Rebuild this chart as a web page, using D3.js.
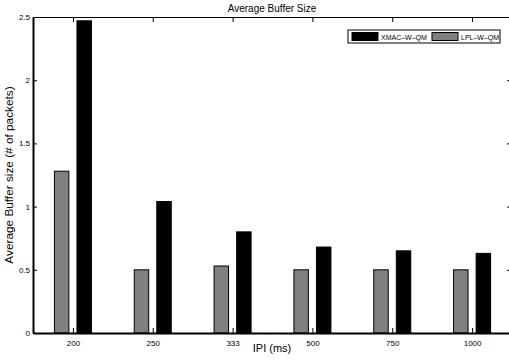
<!DOCTYPE html>
<html>
<head>
<meta charset="utf-8">
<script src="https://cdn.jsdelivr.net/npm/d3@7"></script>
<style>
  body { margin: 0; background: #fff; }
  svg { display: block; font-family: "Liberation Sans", Arial, sans-serif; }
</style>
</head>
<body>
<div id="chart"></div>
<script>
// categories and values
const ipi = ['200', '250', '333', '500', '750', '1000'];
const lplValues = [1.28, 0.50, 0.53, 0.50, 0.50, 0.50];
const xmacValues = [2.47, 1.04, 0.80, 0.68, 0.65, 0.63];
const yTicks = [0, 0.5, 1, 1.5, 2, 2.5];
const seriesNames = ['XMAC\u2013W\u2013QM', 'LPL\u2013W\u2013QM'];

const width = 509;
const height = 362;
const plotLeft = 33, plotRight = 512, plotTop = 17, plotBottom = 333;

const svg = d3.select('#chart')
  .append('svg')
  .attr('width', width)
  .attr('height', height);

// x scale over category index, y scale over buffer size
const x = d3.scaleLinear().domain([0.5, ipi.length + 0.5]).range([plotLeft, plotRight]);
const y = d3.scaleLinear().domain([0, 2.5]).range([plotBottom, plotTop]);

const barW = 14.5 / 80;   // bar width in category units
const offset = 11.3 / 80; // center offset from tick

// bars: grey first (left), black second (right)
const g = svg.append('g');
g.selectAll('rect.lpl')
  .data(lplValues)
  .enter().append('rect')
  .attr('class', 'lpl')
  .attr('x', (d, i) => x(i + 1 - offset - barW / 2))
  .attr('width', x(barW) - x(0))
  .attr('y', d => y(d))
  .attr('height', d => y(0) - y(d))
  .attr('fill', '#808080')
  .attr('stroke', '#000')
  .attr('stroke-width', 1);

g.selectAll('rect.xmac')
  .data(xmacValues)
  .enter().append('rect')
  .attr('class', 'xmac')
  .attr('x', (d, i) => x(i + 1 + offset - barW / 2))
  .attr('width', x(barW) - x(0))
  .attr('y', d => y(d))
  .attr('height', d => y(0) - y(d))
  .attr('fill', '#000')
  .attr('stroke', '#000')
  .attr('stroke-width', 1);

const tickIdx = ipi.map((d, i) => i + 1);

// bottom axis, ticks inward
const xAxis = d3.axisBottom(x)
  .tickValues(tickIdx)
  .tickFormat(i => ipi[i - 1])
  .tickSizeInner(-5)
  .tickSizeOuter(0)
  .tickPadding(7);
const gx = svg.append('g')
  .attr('transform', `translate(0,${plotBottom})`)
  .call(xAxis);
gx.select('.domain').attr('stroke-width', 2);

// top axis, ticks only
svg.append('g')
  .attr('transform', `translate(0,${plotTop})`)
  .call(d3.axisTop(x).tickValues(tickIdx).tickFormat('').tickSizeInner(-5).tickSizeOuter(0));

// left axis
const yAxis = d3.axisLeft(y)
  .tickValues(yTicks)
  .tickFormat(d3.format('~g'))
  .tickSizeInner(-4)
  .tickSizeOuter(0)
  .tickPadding(3);
const gy = svg.append('g')
  .attr('transform', `translate(${plotLeft},0)`)
  .call(yAxis);
gy.select('.domain').attr('stroke-width', 2);

// right axis ticks
svg.append('g')
  .attr('transform', `translate(${plotRight},0)`)
  .call(d3.axisRight(y).tickValues(yTicks).tickFormat('').tickSizeInner(-5).tickSizeOuter(0));

svg.selectAll('.tick text')
  .attr('font-size', 8)
  .attr('fill', '#000')
  .attr('font-family', '"Liberation Sans", Arial, sans-serif');
svg.selectAll('.tick line').attr('stroke', '#000');
svg.selectAll('.domain').attr('stroke', '#000');

// title and axis labels
svg.append('text')
  .attr('x', 272).attr('y', 12)
  .attr('text-anchor', 'middle')
  .attr('font-size', 10)
  .text('Average Buffer Size');

svg.append('text')
  .attr('x', 272).attr('y', 352)
  .attr('text-anchor', 'middle')
  .attr('font-size', 11)
  .text('IPI (ms)');

svg.append('text')
  .attr('transform', `translate(13,${(plotTop + plotBottom) / 2}) rotate(-90)`)
  .attr('text-anchor', 'middle')
  .attr('font-size', 11.8)
  .text('Average Buffer size (# of packets)');

// legend
const legend = svg.append('g').attr('transform', 'translate(348,30)');
legend.append('rect')
  .attr('width', 152).attr('height', 13)
  .attr('fill', '#fff').attr('stroke', '#000').attr('stroke-width', 1);
const legendFill = ['#000', '#808080'];
const legendX = [4, 84];
seriesNames.forEach((name, i) => {
  legend.append('rect')
    .attr('x', legendX[i]).attr('y', 2.5)
    .attr('width', 26).attr('height', 8)
    .attr('fill', legendFill[i]).attr('stroke', '#000').attr('stroke-width', 1);
  legend.append('text')
    .attr('x', legendX[i] + 29).attr('y', 9.5)
    .attr('font-size', 7)
    .text(name);
});
</script>
</body>
</html>
